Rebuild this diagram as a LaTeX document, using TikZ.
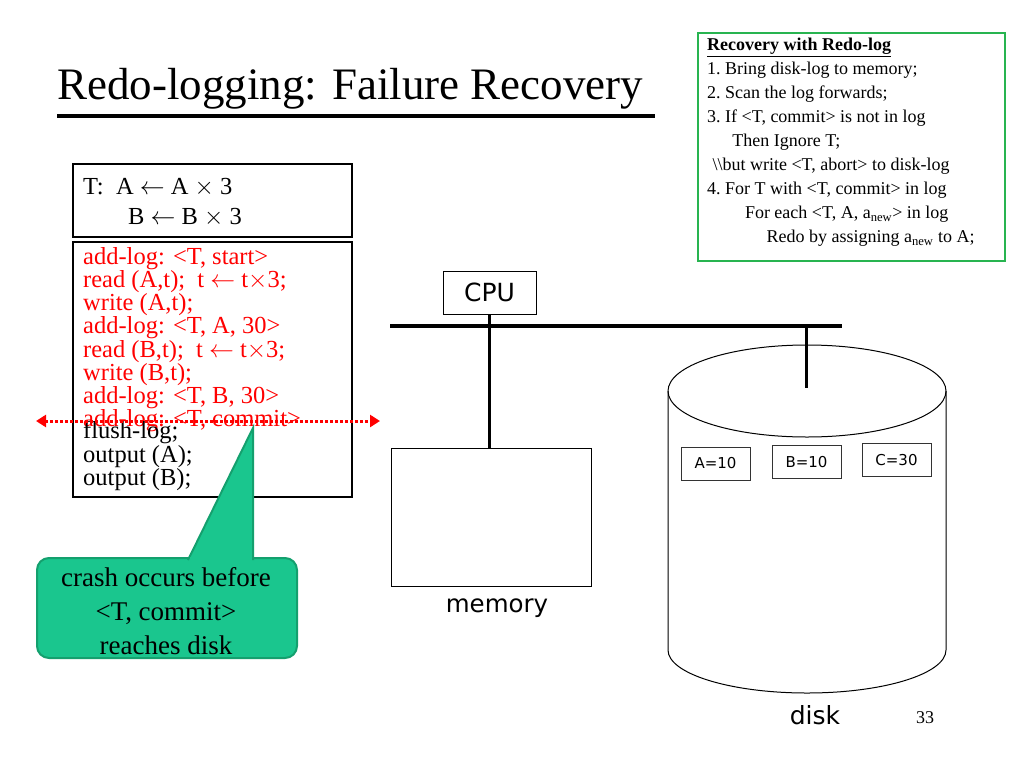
\documentclass[tikz,border=0pt]{standalone}
\usepackage{fontspec}
\setmainfont{Liberation Serif}
\newfontfamily\sans{DejaVu Sans}
\usetikzlibrary{arrows.meta}
\definecolor{calfill}{RGB}{26,198,142}
\definecolor{calline}{RGB}{20,160,110}
\definecolor{boxgreen}{RGB}{40,180,80}
\begin{document}
\begin{tikzpicture}[x=1pt,y=-1pt,
  box/.style={draw=black,line width=2pt},
  thin box/.style={draw=black!80,line width=1pt,inner sep=0pt,minimum width=69pt,minimum height=33pt,font=\sans\fontsize{15}{15}\selectfont},
  code/.style={anchor=north west,align=left,inner sep=0pt,font=\fontsize{24.5}{21.8}\selectfont}]
\useasboundingbox (0,0) rectangle (1024,768);
% title
\node[anchor=base west,inner sep=0pt,font=\fontsize{45}{45}\selectfont] (title) at (57,99) {Redo-logging: Failure Recovery};
\draw[line width=4.5pt] (57,116) coordinate (u1) -- (655,116) coordinate (u2);
% right box
\node[draw=boxgreen,line width=2pt,anchor=north west,minimum width=307pt,minimum height=228pt,inner sep=0pt] (rb) at (697,32) {};
\node[anchor=north west,align=left,inner sep=0pt,font=\fontsize{18}{24}\selectfont] (rbt) at (707,38) {%
\textbf{\underline{Recovery with Redo-log}}\\
1.~Bring disk-log to memory;\\
2.~Scan the log forwards;\\
3.~If <T, commit> is not in log\\
\hspace*{1.4em}Then Ignore T;\\
\hspace*{0.3em}\textbackslash\textbackslash but write <T, abort> to disk-log\\
4.~For T with <T, commit> in log\\
\hspace*{2.1em}For each <T, A, a\textsubscript{new}> in log\\
\hspace*{3.3em}Redo by assigning a\textsubscript{new} to A;};
% T box
\node[box,anchor=north west,minimum width=279pt,minimum height=73pt,inner sep=0pt] (tb) at (72,163) {};
\node[code,anchor=base west] (t1) at (83,194) {T:\ \ A $\leftarrow$\ A $\times$ 3};
\node[code,anchor=base west] (t2) at (128,224) {B $\leftarrow$\ B $\times$ 3};
% code box
\node[box,anchor=north west,minimum width=279pt,minimum height=255pt,inner sep=0pt] (cb) at (72,241) {};
\node[code,text=red] (c1) at (83,247) {add-log: <T, start>\\
read (A,t);\ \ t $\leftarrow$ t$\times$3;\\
write (A,t);\\
add-log: <T, A, 30>\\
read (B,t);\ \ t $\leftarrow$ t$\times$3;\\
write (B,t);\\
add-log: <T, B, 30>\\
add-log: <T, commit>};
\node[code] (c2) at (83,421.5) {flush-log;\\output (A);\\output (B);};
% dotted arrow
\coordinate (dl) at (36,421);
\coordinate (dr) at (380,421);
\draw[red,line width=3pt,dotted,{Triangle[length=10pt,width=12pt]}-{Triangle[length=10pt,width=12pt]}] (dl) -- (dr);
% callout
\draw[calline,line width=2pt,fill=calfill,rounded corners=12pt] (37,558) rectangle (297,658);
\draw[calline,line width=2pt,fill=calfill] (188,560) -- (253,428) -- (253,560);
\fill[calfill] (190,557) rectangle (251,562);
\node[align=center,inner sep=0pt,font=\fontsize{27}{34}\selectfont] (cal) at (166,611) {crash occurs before\\<T, commit>\\reaches disk};
% CPU
\node[draw=black,line width=1pt,minimum width=93pt,minimum height=43pt,inner sep=0pt,font=\sans\fontsize{25}{25}\selectfont] (cpu) at (489.5,292.5) {CPU};
\coordinate (bl) at (390,326);
\coordinate (br) at (842,326);
\draw[line width=4pt] (bl) -- (br);
\node[draw=black,line width=1pt,anchor=north west,minimum width=200pt,minimum height=138pt,inner sep=0pt] (mem) at (391,448) {};
\node[font=\sans\fontsize{24.5}{24.5}\selectfont,inner sep=0pt] (meml) at (497,608) {memory};
\draw[line width=3pt] (cpu.south) -- (mem.north -| cpu.south);
% disk
\draw[line width=1pt] (668,391) -- (668,650) arc[start angle=180,end angle=360,x radius=139pt,y radius=43pt] -- (946,391);
\draw[line width=1pt] (807,391) ellipse[x radius=139pt,y radius=46pt];
\coordinate (dtop) at (806,388);
\draw[line width=3pt] (806,326) -- (dtop);
\node[thin box] (a) at (715.5,463.5) {A=10};
\node[thin box] (b) at (806.5,462) {B=10};
\node[thin box] (c) at (896.5,460) {C=30};
\node[font=\sans\fontsize{25}{25}\selectfont,inner sep=0pt] (diskl) at (815,715) {disk};
\node[font=\fontsize{18}{18}\selectfont,inner sep=0pt] (pg) at (925,718) {33};
\end{tikzpicture}
\end{document}
